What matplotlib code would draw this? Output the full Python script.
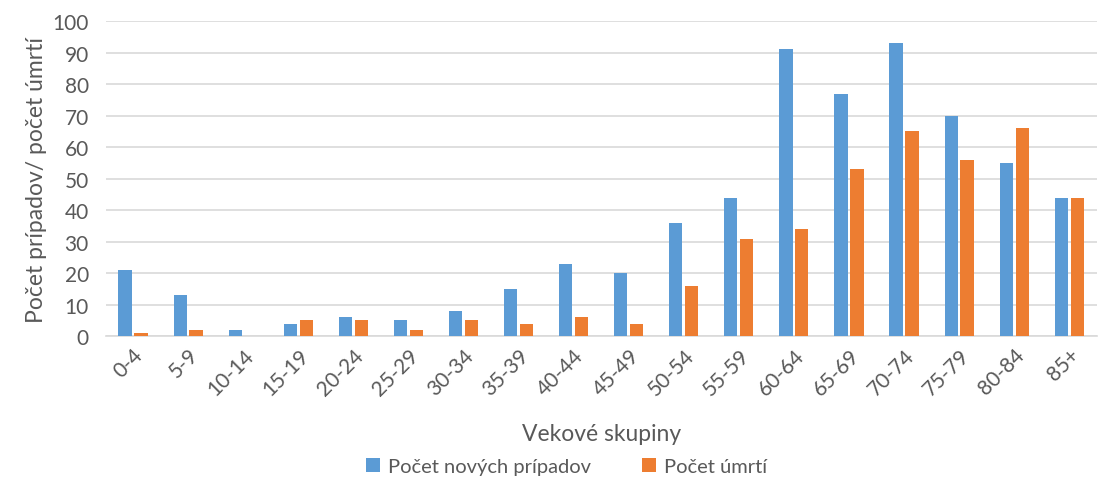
import matplotlib.pyplot as plt
import numpy as np

plt.rcParams['font.family'] = ['Lato', 'DejaVu Sans']

skupiny = ['0-4', '5-9', '10-14', '15-19', '20-24', '25-29', '30-34', '35-39', '40-44',
           '45-49', '50-54', '55-59', '60-64', '65-69', '70-74', '75-79', '80-84', '85+']
nove_pripady = [21, 13, 2, 4, 6, 5, 8, 15, 23, 20, 36, 44, 91, 77, 93, 70, 55, 44]
umrtia = [1, 2, 0, 5, 5, 2, 5, 4, 6, 4, 16, 31, 34, 53, 65, 56, 66, 44]

farba_text = '#595959'
x = np.arange(len(skupiny))
w = 0.24

fig = plt.figure(figsize=(10.99, 4.81), dpi=100)
ax = fig.add_axes([0.096, 0.299, 0.902, 0.655])

ax.bar(x - 0.145, nove_pripady, w, color='#5b9bd5', label='Počet nových prípadov', zorder=3)
ax.bar(x + 0.145, umrtia, w, color='#ed7d31', label='Počet úmrtí', zorder=3)

ax.set_xlim(-0.5, len(skupiny) - 0.5)
ax.set_ylim(0, 100)
ax.set_yticks(range(0, 101, 10))
ax.grid(axis='y', color='#d9d9d9', linewidth=1.2, zorder=0)
for s in ['top', 'right', 'left']:
    ax.spines[s].set_visible(False)
ax.spines['bottom'].set_color('#d9d9d9')
ax.spines['bottom'].set_linewidth(1.2)
ax.tick_params(length=0, labelsize=15, colors=farba_text)
ax.tick_params(axis='y', pad=12)
ax.tick_params(axis='x', pad=6)
ax.set_xticks(x)
ax.set_xticklabels(skupiny, rotation=45, ha='right', rotation_mode='anchor')

ax.set_xlabel('Vekové skupiny', fontsize=16.5, color=farba_text, labelpad=18)
ax.set_ylabel('Počet prípadov/ počet úmrtí', fontsize=16.5, color=farba_text, labelpad=4)

ax.legend(loc='center', bbox_to_anchor=(0.465, -0.413), ncol=2, frameon=False,
          fontsize=14.5, labelcolor=farba_text, handlelength=0.7, handleheight=0.7,
          columnspacing=2.5, handletextpad=0.4)

fig.savefig('out.png', dpi=100)
